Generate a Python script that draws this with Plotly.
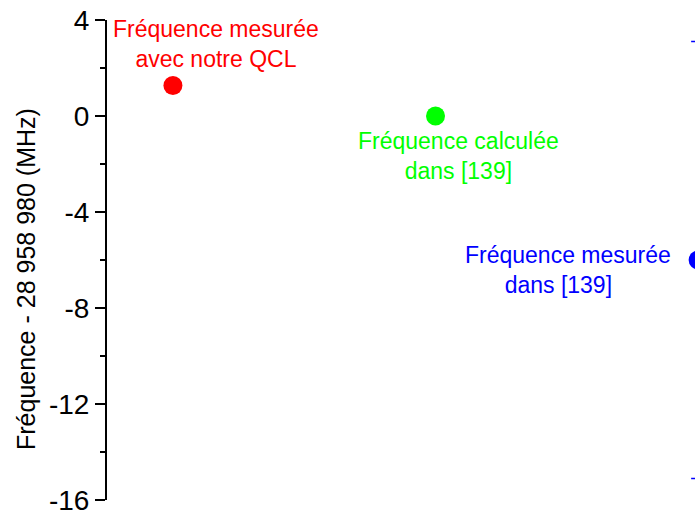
import plotly.graph_objects as go

# Frequency offsets relative to 28 958 980 MHz
positions = [1, 2, 3]
offsets_mhz = [1.27, 0.0, -6.0]
uncertainty_mhz = [0.0, 0.0, 9.1]
colors = ["#FF0000", "#00FF00", "#0000FF"]
labels = [
    "Fréquence mesurée<br>avec notre QCL",
    "Fréquence calculée<br>dans [139]",
    "Fréquence mesurée<br>dans [139]" + "\u00a0" * 3,
]
# label placement relative to each point (x shift, y shift in MHz)
label_shift = [(0.165, 1.71), (0.089, -1.65), (-0.495, -0.4)]

y_ticks = [4, 0, -4, -8, -12, -16]

fig = go.Figure()

# measured point with uncertainty (blue) drawn with error bars
fig.add_trace(go.Scatter(
    x=[positions[2]], y=[offsets_mhz[2]],
    mode="markers",
    marker=dict(size=19, color=colors[2]),
    error_y=dict(type="data", array=[uncertainty_mhz[2]], visible=True,
                 color=colors[2], thickness=1.5, width=7),
    showlegend=False,
))
for i in range(2):
    fig.add_trace(go.Scatter(
        x=[positions[i]], y=[offsets_mhz[i]],
        mode="markers",
        marker=dict(size=19, color=colors[i]),
        showlegend=False,
    ))

for i in range(3):
    fig.add_annotation(
        x=positions[i] + label_shift[i][0],
        y=offsets_mhz[i] + label_shift[i][1],
        xref="x", yref="y",
        text=labels[i], showarrow=False,
        font=dict(family="Liberation Sans, Arial", size=23, color=colors[i]),
        align="center", xanchor="center", yanchor="middle",
    )

# vertical axis title
W, H = 695, 516
ML, MR, MT, MB = 107, 0, 20, 16
pw, ph = W - ML - MR, H - MT - MB
title_px = (26, 279)
fig.add_annotation(
    x=(title_px[0] - ML) / pw, y=1 - (title_px[1] - MT) / ph,
    xref="paper", yref="paper",
    text="Fréquence - 28 958 980 (MHz)", showarrow=False, textangle=-90,
    font=dict(family="Liberation Sans, Arial", size=25, color="black"),
    xanchor="center", yanchor="middle",
)

fig.update_layout(
    width=W, height=H,
    margin=dict(l=ML, r=MR, t=MT, b=MB),
    plot_bgcolor="white", paper_bgcolor="white",
    font=dict(family="Liberation Sans, Arial", color="black"),
    xaxis=dict(range=[0.749, 2.988], visible=False, showgrid=False, zeroline=False),
    yaxis=dict(
        range=[-16, 4], tickvals=y_ticks, ticktext=[str(v) for v in y_ticks],
        showgrid=False, zeroline=False, showline=True, linecolor="black", linewidth=2,
        ticks="outside", ticklen=10, tickwidth=2, tickcolor="black",
        tickfont=dict(size=28, color="black"),
        minor=dict(tickvals=[2, -2, -6, -10, -14], ticks="outside", ticklen=5,
                   tickwidth=2, tickcolor="black"),
    ),
)

fig.write_html("out.html")
